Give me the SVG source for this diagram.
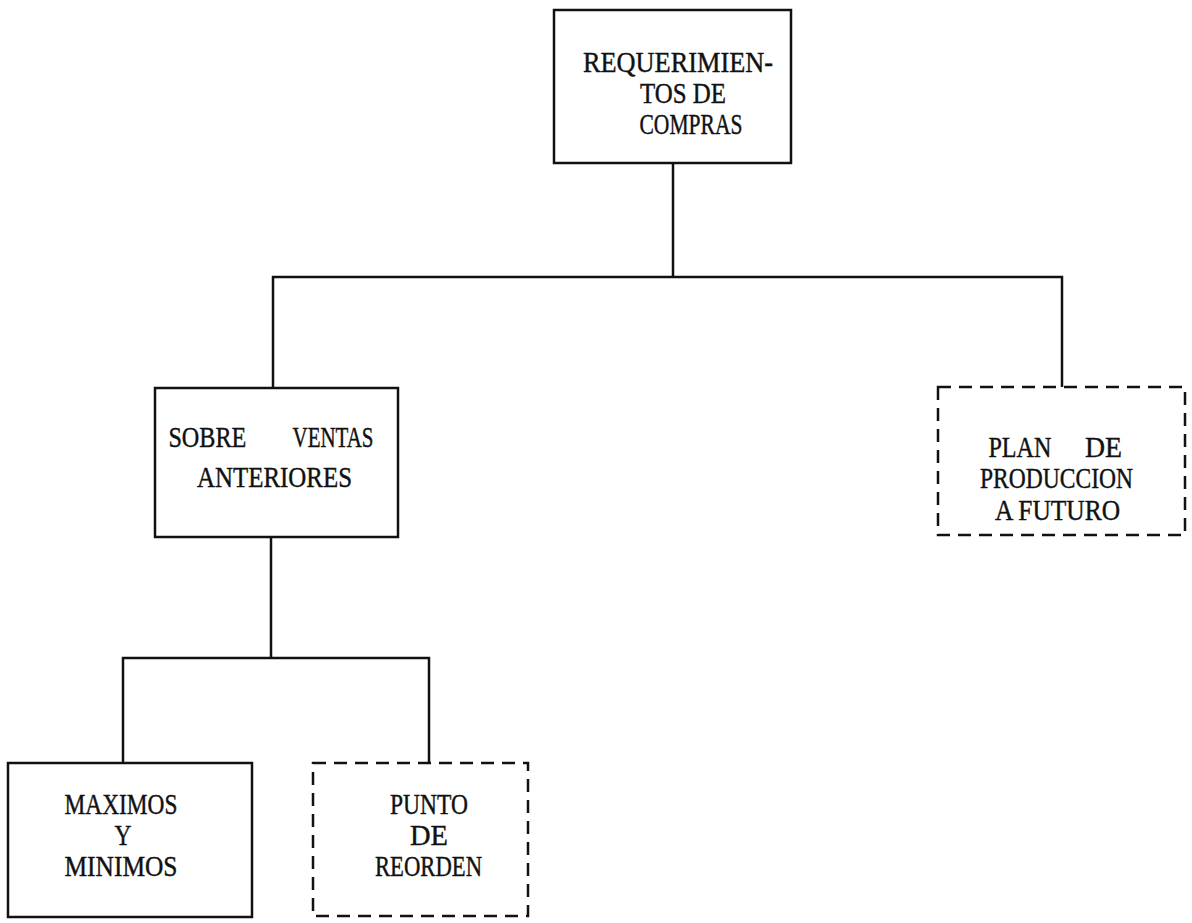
<svg xmlns="http://www.w3.org/2000/svg" width="1192" height="923" viewBox="0 0 1192 923">
<style>
.box{fill:none;stroke:#111;stroke-width:2.5}
.dash{stroke-dasharray:13 8}
.lbl{font-family:"Liberation Serif","Times New Roman",serif;font-size:29px;fill:#111;stroke:#111;stroke-width:0.4;text-anchor:middle}
.ln{fill:none;stroke:#111;stroke-width:2.5}
</style>
<rect width="1192" height="923" fill="#fff"/>
<g id="connectors">
<path class="ln" d="M673,163 V277"/>
<path class="ln" d="M273,388 V277 H1062 V387"/>
<path class="ln" d="M271,537 V658"/>
<path class="ln" d="M123,763 V658 H429 V763"/>
</g>
<g id="node-requerimientos">
<rect class="box" x="554" y="10" width="237" height="153"/>
<text class="lbl" x="678" y="72" textLength="190" lengthAdjust="spacingAndGlyphs">REQUERIMIEN-</text>
<text class="lbl" x="683" y="103" textLength="86" lengthAdjust="spacingAndGlyphs">TOS DE</text>
<text class="lbl" x="691" y="134" textLength="103" lengthAdjust="spacingAndGlyphs">COMPRAS</text>
</g>
<g id="node-sobre-ventas">
<rect class="box" x="155" y="388" width="243" height="149"/>
<text class="lbl" y="447"><tspan x="211" textLength="78" lengthAdjust="spacingAndGlyphs">SOBRE</tspan> <tspan x="333" textLength="81" lengthAdjust="spacingAndGlyphs">VENTAS</tspan></text>
<text class="lbl" x="274.5" y="487" textLength="155" lengthAdjust="spacingAndGlyphs">ANTERIORES</text>
</g>
<g id="node-plan-produccion">
<rect class="box dash" x="938" y="387" width="247" height="148"/>
<text class="lbl" y="457"><tspan x="1023.5" textLength="63" lengthAdjust="spacingAndGlyphs">PLAN</tspan> <tspan x="1103.5" textLength="37" lengthAdjust="spacingAndGlyphs">DE</tspan></text>
<text class="lbl" x="1056.5" y="488" textLength="153" lengthAdjust="spacingAndGlyphs">PRODUCCION</text>
<text class="lbl" x="1057.5" y="520" textLength="125" lengthAdjust="spacingAndGlyphs">A FUTURO</text>
</g>
<g id="node-maximos-minimos">
<rect class="box" x="8" y="763" width="244" height="154"/>
<text class="lbl" x="121" y="814" textLength="113" lengthAdjust="spacingAndGlyphs">MAXIMOS</text>
<text class="lbl" x="123" y="845" textLength="17" lengthAdjust="spacingAndGlyphs">Y</text>
<text class="lbl" x="121" y="876" textLength="113" lengthAdjust="spacingAndGlyphs">MINIMOS</text>
</g>
<g id="node-punto-reorden">
<rect class="box dash" x="313" y="763" width="215" height="153"/>
<text class="lbl" x="429" y="814" textLength="78" lengthAdjust="spacingAndGlyphs">PUNTO</text>
<text class="lbl" x="429" y="845" textLength="38" lengthAdjust="spacingAndGlyphs">DE</text>
<text class="lbl" x="428.5" y="876" textLength="107" lengthAdjust="spacingAndGlyphs">REORDEN</text>
</g>
</svg>
